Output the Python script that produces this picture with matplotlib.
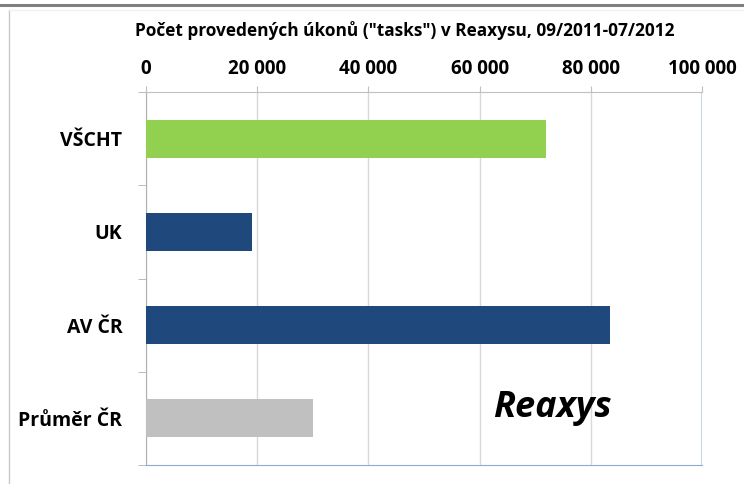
import matplotlib
matplotlib.use('Agg')
from matplotlib import pyplot as plt
from matplotlib.lines import Line2D

categories = ['VŠCHT', 'UK', 'AV ČR', 'Průměr ČR']
values = [72000, 19000, 83500, 30000]
colors = ['#92d050', '#1f497d', '#1f497d', '#c0c0c0']
xticks = [0, 20000, 40000, 60000, 80000, 100000]
xtick_labels = ['0', '20 000', '40 000', '60 000', '80 000', '100 000']
title = 'Počet provedených úkonů ("tasks") v Reaxysu, 09/2011-07/2012'

plt.rcParams['font.family'] = ['Open Sans', 'DejaVu Sans']

fig = plt.figure(figsize=(7.44, 4.84), dpi=100)
ax = fig.add_axes([146 / 744, 19 / 484, 556 / 744, 373 / 484])

ypos = list(range(len(categories)))
ax.barh(ypos, values, height=0.41, color=colors, zorder=3)

ax.set_xlim(0, 100000)
ax.set_ylim(3.5, -0.5)
ax.xaxis.tick_top()
ax.set_xticks(xticks)
ax.set_xticklabels(xtick_labels, fontsize=13.5, fontweight='bold')
ax.tick_params(axis='x', length=4.5, color='#c0c0c0', pad=5)

ax.set_yticks(ypos)
ax.set_yticklabels(categories, fontsize=14, fontweight='bold')
ax.tick_params(axis='y', which='major', length=0, pad=17)
ax.set_yticks([-0.5, 0.5, 1.5, 2.5, 3.5], minor=True)
ax.tick_params(axis='y', which='minor', length=6, color='#b0b0b0')

ax.grid(axis='x', color='#d9d9d9', linewidth=1, zorder=0)
ax.axvline(100000, color='#c9d5e6', linewidth=1.5, zorder=1)

ax.spines['left'].set_color('#b0b0b0')
ax.spines['top'].set_color('#c0c0c0')
ax.spines['bottom'].set_color('#8eaad0')
ax.spines['right'].set_visible(False)

fig.text(405 / 744, 1 - 30 / 484, title, ha='center', va='center',
         fontsize=12.4, fontweight='bold')
fig.text(552 / 744, 1 - 408 / 484, 'Reaxys', ha='center', va='center',
         fontsize=26, fontweight='bold', style='italic')

# frame lines
fig.add_artist(Line2D([0, 1], [1 - 4.5 / 484, 1 - 4.5 / 484], color='#808080', linewidth=2.2))
fig.add_artist(Line2D([9 / 744, 9 / 744], [0, 1 - 10 / 484], color='#c8c8c8', linewidth=1))
fig.add_artist(Line2D([9 / 744, 1], [1 - 10 / 484, 1 - 10 / 484], color='#f0f0f0', linewidth=1))

plt.savefig('out.png', dpi=100)
